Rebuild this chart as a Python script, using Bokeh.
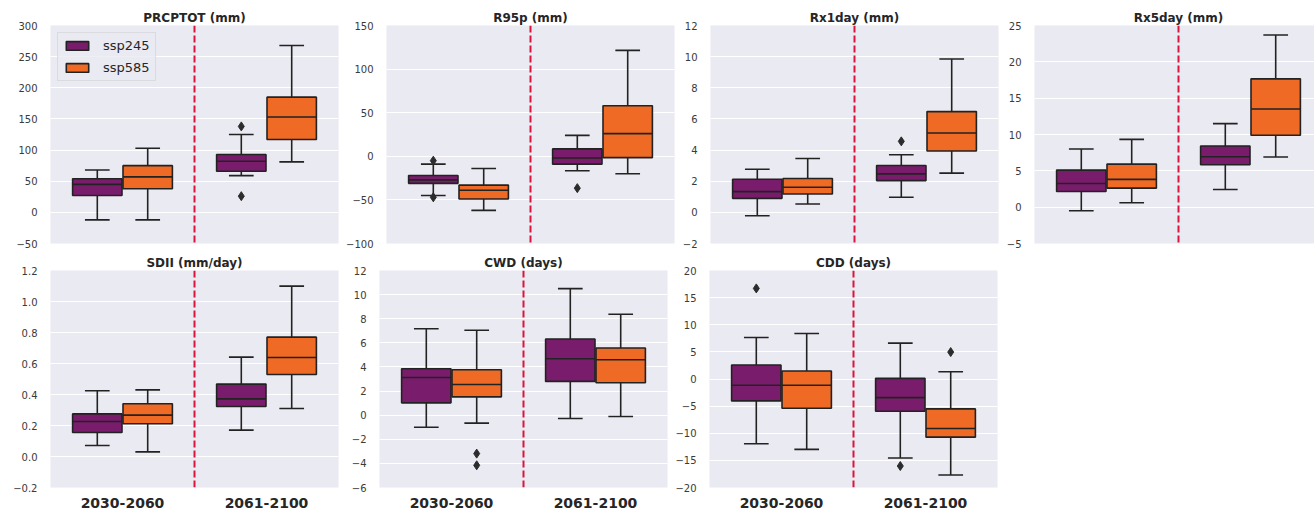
from bokeh.plotting import figure
from bokeh.layouts import row, column
from bokeh.models import (ColumnDataSource, Span, FixedTicker, CustomJSTickFormatter,
                          Legend, LegendItem, Range1d)
from bokeh.embed import file_html
from bokeh.resources import INLINE

periods = ["2030-2060", "2061-2100"]
scenarios = ["ssp245", "ssp585"]
scenario_colors = ["#7A1C6C", "#EE6A25"]

# Box statistics per index: [lower whisker, Q1, median, Q3, upper whisker]
# rows: ssp245 2030-2060, ssp585 2030-2060, ssp245 2061-2100, ssp585 2061-2100
prcptot_stats = [[-12, 27, 45, 54, 68], [-12, 38, 57, 75, 103],
                 [59, 66, 82, 93, 125], [81, 117, 153, 185, 268]]
prcptot_outliers = [[], [], [138, 26], []]

r95p_stats = [[-45, -31, -27, -22, -9], [-62, -49, -39, -33, -14],
              [-16.5, -9, -2, 8.5, 24], [-20, -1.5, 26, 58, 121.5]]
r95p_outliers = [[-5, -47], [], [-36.5], []]

rx1day_stats = [[-0.22, 0.9, 1.33, 2.13, 2.77], [0.54, 1.18, 1.61, 2.17, 3.46],
                [0.97, 2.04, 2.47, 3.01, 3.7], [2.52, 3.94, 5.1, 6.47, 9.85]]
rx1day_outliers = [[], [], [4.56], []]

rx5day_stats = [[-0.5, 2.16, 3.26, 5.1, 8.0], [0.6, 2.62, 3.82, 5.93, 9.33],
                [2.44, 5.84, 6.94, 8.41, 11.5], [6.9, 9.9, 13.5, 17.66, 23.7]]
rx5day_outliers = [[], [], [], []]

sdii_stats = [[0.071, 0.155, 0.226, 0.275, 0.424], [0.03, 0.211, 0.267, 0.34, 0.43],
              [0.17, 0.323, 0.372, 0.467, 0.641], [0.31, 0.529, 0.639, 0.77, 1.099]]
sdii_outliers = [[], [], [], []]

cwd_stats = [[-1.0, 1.02, 3.13, 3.85, 7.17], [-0.66, 1.52, 2.55, 3.77, 7.04],
             [-0.28, 2.8, 4.68, 6.32, 10.5], [-0.11, 2.69, 4.6, 5.57, 8.37]]
cwd_outliers = [[], [-3.19, -4.16], [], []]

cdd_stats = [[-11.94, -4.04, -1.16, 2.57, 7.65], [-12.98, -5.39, -1.16, 1.47, 8.39],
             [-14.57, -5.94, -3.43, 0.12, 6.61], [-17.7, -10.72, -9.12, -5.51, 1.35]]
cdd_outliers = [[16.7], [], [-16.04], [4.96]]

titles = ["PRCPTOT (mm)", "R95p (mm)", "Rx1day (mm)", "Rx5day (mm)",
          "SDII (mm/day)", "CWD (days)", "CDD (days)"]

FONT = "DejaVu Sans"
BG = "#EAEAF2"
LINE = "#222222"
BOX_W = 0.343
OFFSET = 0.175


def make_panel(title, stats, outliers, ylim, step, decimals,
               border_left, border_right, bottom_row, with_legend=False):
    p = figure(frame_width=288, frame_height=217 if bottom_row else 218,
               min_border_left=border_left, min_border_right=border_right,
               min_border_top=19 if bottom_row else 25,
               min_border_bottom=25 if bottom_row else 8,
               x_range=Range1d(-0.5, 1.5), y_range=Range1d(*ylim),
               output_backend="svg", toolbar_location=None,
               background_fill_color=BG, border_fill_color="white",
               outline_line_color=None)

    p.title.text = title
    p.title.align = "center"
    p.title.text_font = FONT
    p.title.text_font_style = "bold"
    p.title.text_font_size = "12px"
    p.title.text_color = "#262626"
    p.title.standoff = 2
    p.title.offset = 0

    n = int(round((ylim[1] - ylim[0]) / step))
    ticks = [round(ylim[0] + i * step, 6) for i in range(n + 1)]
    yax = p.yaxis[0]
    yax.ticker = FixedTicker(ticks=ticks)
    yax.formatter = CustomJSTickFormatter(
        args=dict(d=decimals),
        code="return tick.toFixed(d).replace('-', '\\u2212');")
    yax.axis_line_color = None
    yax.major_tick_line_color = None
    yax.minor_tick_line_color = None
    yax.major_label_standoff = 7
    yax.major_label_text_font = FONT
    yax.major_label_text_font_size = "10px"
    yax.major_label_text_color = "#3a3a3a"

    xax = p.xaxis[0]
    if bottom_row:
        xax.ticker = FixedTicker(ticks=[0, 1])
        xax.major_label_overrides = {0: periods[0], 1: periods[1]}
        xax.axis_line_color = None
        xax.major_tick_line_color = None
        xax.minor_tick_line_color = None
        xax.major_label_standoff = 4
        xax.major_label_text_font = FONT
        xax.major_label_text_font_style = "bold"
        xax.major_label_text_font_size = "14px"
        xax.major_label_text_color = "#262626"
    else:
        xax.visible = False

    p.xgrid.visible = False
    p.ygrid.grid_line_color = "white"
    p.ygrid.grid_line_width = 1.2
    p.ygrid.ticker = FixedTicker(ticks=ticks)

    # separator between the two periods
    p.add_layout(Span(location=0.5, dimension="height", line_color="#DC143C",
                      line_dash="7 3", line_width=2))

    legend_items = []
    for s, scen in enumerate(scenarios):
        rows_idx = [s, 2 + s]
        xs = [pi + (OFFSET if s == 1 else -OFFSET) for pi in range(len(periods))]
        lo = [stats[k][0] for k in rows_idx]
        q1 = [stats[k][1] for k in rows_idx]
        med = [stats[k][2] for k in rows_idx]
        q3 = [stats[k][3] for k in rows_idx]
        hi = [stats[k][4] for k in rows_idx]
        src = ColumnDataSource(dict(
            x=xs, lo=lo, q1=q1, med=med, q3=q3, hi=hi,
            cap_l=[x - BOX_W / 4 for x in xs], cap_r=[x + BOX_W / 4 for x in xs],
            box_l=[x - BOX_W / 2 for x in xs], box_r=[x + BOX_W / 2 for x in xs]))

        p.segment(x0="x", y0="q3", x1="x", y1="hi", source=src,
                  line_color=LINE, line_width=1.6)
        p.segment(x0="x", y0="lo", x1="x", y1="q1", source=src,
                  line_color=LINE, line_width=1.6)
        p.segment(x0="cap_l", y0="hi", x1="cap_r", y1="hi", source=src,
                  line_color=LINE, line_width=1.6)
        p.segment(x0="cap_l", y0="lo", x1="cap_r", y1="lo", source=src,
                  line_color=LINE, line_width=1.6)
        box = p.vbar(x="x", width=BOX_W, bottom="q1", top="q3", source=src,
                     fill_color=scenario_colors[s], line_color=LINE, line_width=1.6)
        p.segment(x0="box_l", y0="med", x1="box_r", y1="med", source=src,
                  line_color=LINE, line_width=1.6)
        legend_items.append(LegendItem(label=scen, renderers=[box]))

        ox, oy = [], []
        for pi, k in enumerate(rows_idx):
            for v in outliers[k]:
                ox.append(xs[pi])
                oy.append(v)
        if ox:
            p.scatter(x=ox, y=oy, marker="diamond", size=9,
                      fill_color="#2c2c2c", line_color="#2c2c2c")

    if with_legend:
        leg = Legend(items=legend_items, location="top_left",
                     margin=7, padding=5, spacing=7,
                     glyph_width=28, glyph_height=11, label_height=14,
                     label_standoff=12,
                     label_text_font=FONT, label_text_font_size="13px",
                     label_text_color="#262626",
                     background_fill_color=BG, background_fill_alpha=0.8,
                     border_line_color="#CCCCCC", border_line_width=1)
        p.add_layout(leg)
    return p


p1 = make_panel(titles[0], prcptot_stats, prcptot_outliers, (-50, 300), 50, 0, 50, 5, False, True)
p2 = make_panel(titles[1], r95p_stats, r95p_outliers, (-100, 150), 50, 0, 36, 5, False)
p3 = make_panel(titles[2], rx1day_stats, rx1day_outliers, (-2, 12), 2, 0, 31, 5, False)
p4 = make_panel(titles[3], rx5day_stats, rx5day_outliers, (-5, 25), 5, 0, 23, 7, False)
p5 = make_panel(titles[4], sdii_stats, sdii_outliers, (-0.2, 1.2), 0.2, 1, 50, 5, True)
p6 = make_panel(titles[5], cwd_stats, cwd_outliers, (-6, 12), 2, 0, 36, 5, True)
p7 = make_panel(titles[6], cdd_stats, cdd_outliers, (-20, 20), 5, 0, 31, 5, True)

layout = column(row(p1, p2, p3, p4), row(p5, p6, p7))

with open("out.html", "w") as f:
    f.write(file_html(layout, INLINE))
